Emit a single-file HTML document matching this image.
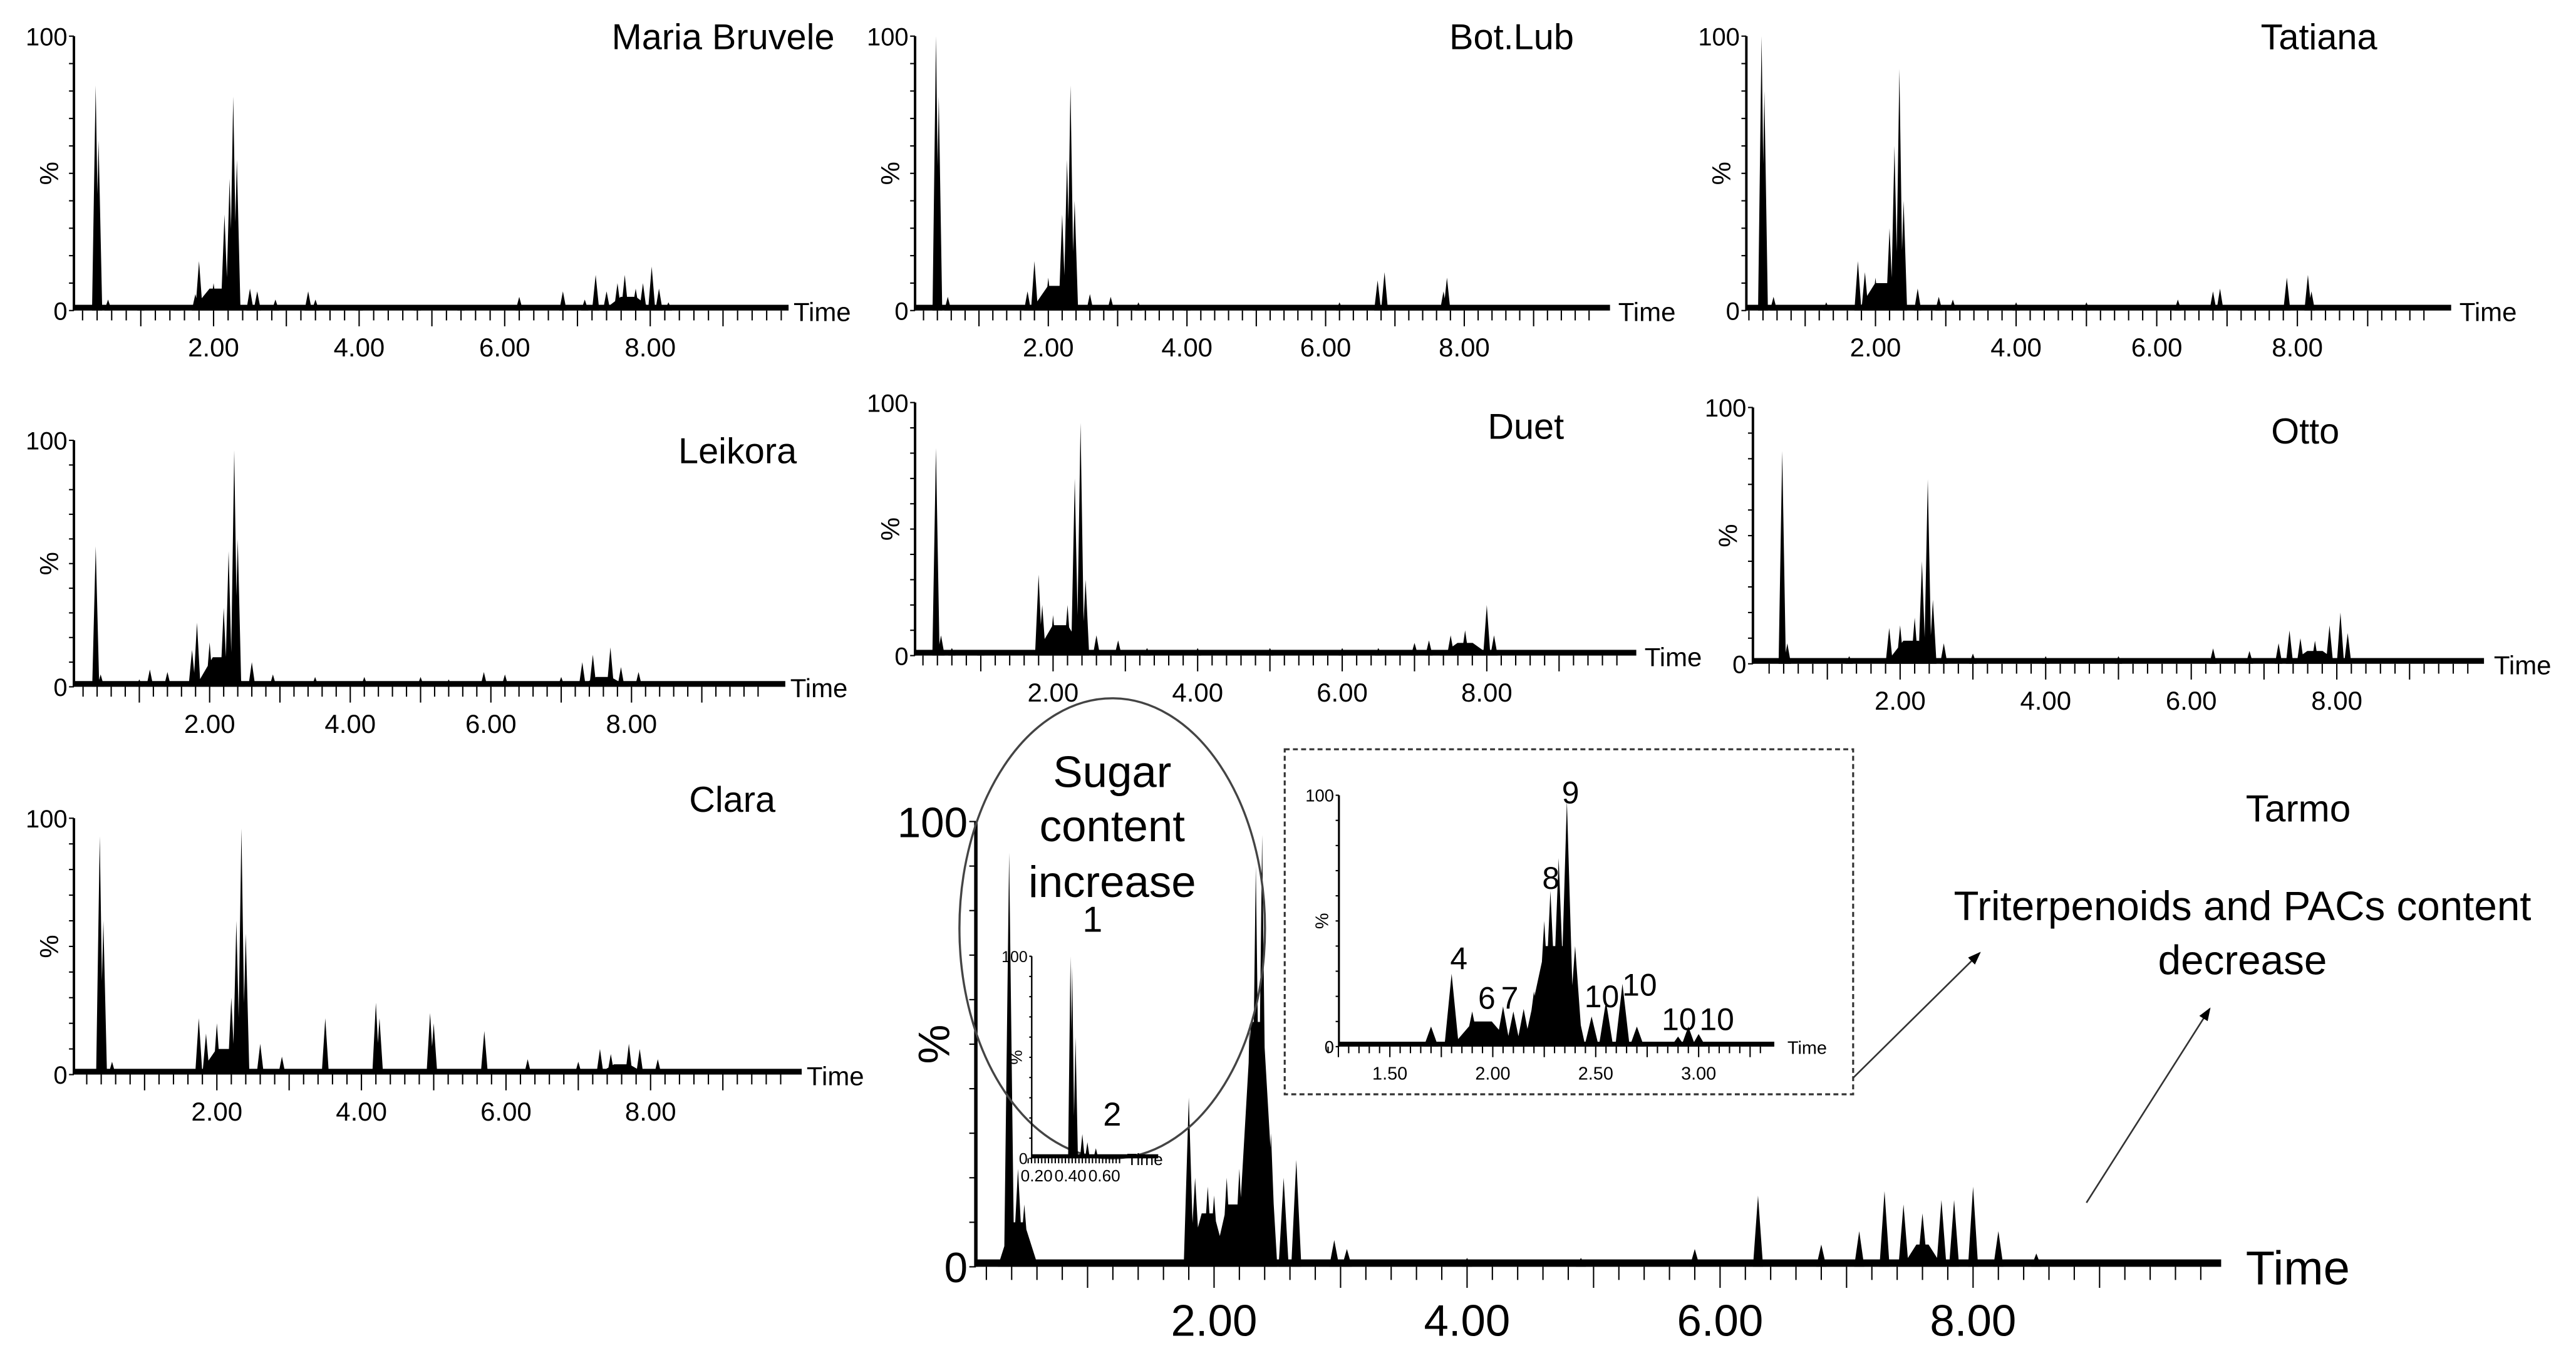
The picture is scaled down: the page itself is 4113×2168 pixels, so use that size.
<!DOCTYPE html>
<html><head><meta charset="utf-8"><style>
html,body{margin:0;padding:0;background:#fff;}
svg{display:block;font-family:"Liberation Sans",sans-serif;}
</style></head><body>
<svg id="fig" width="4113" height="2168" viewBox="0 0 1568 826.5" preserveAspectRatio="none" xmlns="http://www.w3.org/2000/svg">
<rect width="1568" height="826.5" fill="#fff"/>
<g id="marks"></g>
<ellipse cx="677" cy="565" rx="93" ry="140" fill="none" stroke="#444" stroke-width="1.3"/>
<g font-size="27" text-anchor="middle" fill="#000">
<text x="677" y="479">Sugar</text><text x="677" y="512">content</text><text x="677" y="546">increase</text></g>
<rect x="782" y="456" width="346" height="210" fill="#fff" stroke="#333" stroke-width="1.2" stroke-dasharray="3,2"/>
<g font-size="25" text-anchor="middle" fill="#000">
<text x="1365" y="560">Triterpenoids and PACs content</text><text x="1365" y="593">decrease</text></g>
<defs><marker id="ah" markerWidth="8" markerHeight="8" refX="7" refY="4" orient="auto"><path d="M0,1 L8,4 L0,7 z" fill="#000"/></marker></defs>
<line x1="1128" y1="656" x2="1205" y2="580" stroke="#333" stroke-width="1" marker-end="url(#ah)"/>
<line x1="1270" y1="732" x2="1345" y2="614" stroke="#333" stroke-width="1" marker-end="url(#ah)"/>
<g id="marks2"></g>
</svg>
<script>
// ---- data (time min, relative intensity %) ----
const mariaT=[0.38,0.42,0.55,1.0,1.5,1.75,1.8,2.0,2.15,2.22,2.27,2.32,2.5,2.6,2.85,3.3,3.4,4.0,4.8,5.4,6.2,6.8,7.1,7.25,7.4,7.55,7.65,7.8,7.9,8.02,8.12,8.25];
const mariaH=[82,62,4,1,2,6,18,10,35,48,78,55,8,7,4,7,4,2,2,2,5,7,4,13,7,10,13,8,10,16,8,3];
const mariaHumpT=[2.05,7.7];
const mariaHumpH=[8,5];
const botT=[0.38,0.42,0.55,1.7,1.8,2.0,2.2,2.27,2.32,2.38,2.6,2.9,3.3,4.0,5.0,6.2,6.75,6.85,7.7,7.75];
const botH=[100,78,5,7,18,12,35,55,82,40,6,5,3,2,2,3,11,14,7,12];
const botHumpT=[2.1,7.4];
const botHumpH=[9,2];
const tatT=[0.38,0.42,0.55,1.3,1.75,1.85,2.0,2.2,2.27,2.34,2.4,2.6,2.9,3.1,4.0,5.0,6.3,6.8,6.9,7.85,8.15,8.2];
const tatH=[100,80,5,3,18,14,12,30,60,88,40,8,5,4,3,3,4,7,8,12,13,7];
const tatHumpT=[2.1,7.5];
const tatHumpH=[10,2];
const leiT=[0.38,0.45,1.0,1.15,1.4,1.75,1.82,2.0,2.2,2.27,2.35,2.4,2.6,2.9,3.5,4.2,5.0,5.4,5.9,6.2,7.0,7.3,7.45,7.7,7.85,8.1];
const leiH=[57,5,3,7,6,15,26,18,32,55,96,60,10,5,4,4,4,3,6,5,4,10,13,16,8,6];
const leiHumpT=[2.15,7.6];
const leiHumpH=[12,4];
const duetT=[0.38,0.45,0.6,1.0,1.8,1.85,2.0,2.2,2.3,2.38,2.45,2.6,2.9,3.3,4.0,5.0,6.0,6.5,7.0,7.2,7.5,7.7,8.0,8.1];
const duetH=[82,8,3,2,32,20,16,20,70,92,30,8,6,3,3,3,3,3,5,6,8,10,20,8];
const duetHumpT=[2.1,7.7];
const duetHumpH=[12,5];
const ottoT=[0.38,0.45,1.3,1.85,2.0,2.2,2.3,2.38,2.45,2.6,3.0,4.0,5.0,6.3,6.8,7.2,7.35,7.5,7.7,7.9,8.05,8.15];
const ottoH=[83,8,3,14,15,18,40,72,25,8,4,3,3,6,5,8,13,10,9,15,20,12];
const ottoHumpT=[2.15,7.7];
const ottoHumpH=[9,5];
const claraT=[0.38,0.43,0.55,1.75,1.85,2.0,2.2,2.27,2.34,2.4,2.6,2.9,3.5,4.2,4.25,4.95,5.0,5.7,6.3,7.0,7.3,7.45,7.7,7.85,8.1];
const claraH=[93,60,5,22,16,20,30,60,96,55,12,7,22,28,22,24,20,17,6,5,10,8,12,10,6];
const claraHumpT=[2.1,7.6];
const claraHumpH=[10,4];
const tarmoT=[0.38,0.45,0.5,1.8,1.85,1.95,2.0,2.1,2.2,2.28,2.33,2.38,2.45,2.55,2.65,2.95,3.05,4.0,4.9,5.8,6.3,6.8,7.1,7.3,7.45,7.6,7.75,7.85,8.0,8.2,8.5];
const tarmoH=[93,22,14,38,20,18,16,20,22,55,90,97,30,20,24,6,4,2,2,4,16,5,8,17,14,12,15,15,18,8,3];
const tarmoHumpT=[0.45,1.95,2.15,2.34,7.6];
const tarmoHumpH=[10,12,14,55,5];
const sugarT=[0.4,0.41,0.43,0.47,0.5,0.55];
const sugarH=[100,95,60,12,8,5];
const insetT=[1.8,1.7,1.9,1.95,2.05,2.1,2.15,2.2,2.25,2.28,2.32,2.36,2.4,2.48,2.55,2.63,2.7,2.9,2.95,3.0];
const insetH=[29,8,14,10,16,14,15,22,50,62,75,98,40,12,18,25,8,4,8,5];
const insetHumpT=[2.3,1.95];
const insetHumpH=[40,10];
const tickLabels=["2.00","4.00","6.00","8.00"];
const tickVals=[2,4,6,8];
const insetTickLabels=["1.50","2.00","2.50","3.00"];
const insetTickVals=[1.5,2.0,2.5,3.0];
const sugarTickLabels=["0.20","0.40","0.60"];
const sugarTickVals=[0.2,0.4,0.6];

const NS="http://www.w3.org/2000/svg";
const root=document.getElementById('marks');
const root2=document.getElementById('marks2');
function mk(parent,tag,attrs){const e=document.createElementNS(NS,tag);for(const k in attrs)e.setAttribute(k,attrs[k]);parent.appendChild(e);return e;}

function panel(p,parent){
  const g=mk(parent,'g',{});
  
  
  const xs=t=>p.x0+(t-p.t0)*p.ppm;
  const ys=v=>p.y0-(v/100)*(p.y0-p.ytop);
  let d='';
  const HT=p.HT||[],HH=p.HH||[];
  for(let i=0;i<HT.length;i++){
    const w=p.hw,t=HT[i];
    d+=`M${xs(t-w)},${p.y0} L${xs(t-w*0.3)},${ys(HH[i])} L${xs(t+w*0.3)},${ys(HH[i])} L${xs(t+w)},${p.y0} Z `;
  }
  for(let i=0;i<p.T.length;i++){
    const w=p.w,t=p.T[i];
    d+=`M${xs(t-w)},${p.y0} L${xs(t)},${ys(p.H[i])} L${xs(t+w)},${p.y0} Z `;
  }
  const pk=mk(g,'path',{d:d,fill:'#000'});
  
  
  mk(g,'rect',{x:p.ax,y:p.y0-p.lw-1,width:p.xend-p.ax,height:p.lw+1,fill:'#000'});
  const ya=mk(g,'line',{x1:p.ax,y1:p.ytop,x2:p.ax,y2:p.y0,stroke:'#000','stroke-width':p.lw*0.6});
  
  
  for(let v=0;v<=100;v+=10){mk(g,'line',{x1:p.ax-p.tk*0.5,y1:ys(v),x2:p.ax,y2:ys(v),stroke:'#000','stroke-width':0.8});}
  for(let t=p.tStart;t<=p.tEnd+1e-6;t+=p.minor){
    const major=Math.abs(t/p.major-Math.round(t/p.major))<1e-3;
    mk(g,'line',{x1:xs(t),y1:p.y0,x2:xs(t),y2:p.y0+(major?p.tk*1.6:p.tk),stroke:'#000','stroke-width':0.8});
  }
  for(let i=0;i<p.tv.length;i++){
    const tl=mk(g,'text',{x:xs(p.tv[i]),y:p.y0+p.lo,'font-size':p.fs,'text-anchor':'middle'});
    tl.textContent=p.tl[i];
    
    
  }
  const y100=mk(g,'text',{x:p.ax-p.tk*0.5-1,y:p.ytop+p.fs*0.35,'font-size':p.fs*0.95,'text-anchor':'end'});y100.textContent='100';
  
  
  const y0=mk(g,'text',{x:p.ax-p.tk*0.5-1,y:p.y0+p.fs*0.35,'font-size':p.fs*0.95,'text-anchor':'end'});y0.textContent='0';
  
  
  const pc=mk(g,'text',{x:0,y:0,'font-size':p.fs,'text-anchor':'middle',transform:`translate(${p.ax-p.fs*0.6},${(p.ytop+p.y0)/2}) rotate(-90)`});pc.textContent='%';
  
  
  const tm=mk(g,'text',{x:p.timeX,y:p.y0+p.fs*0.4,'font-size':p.tfs||p.fs});tm.textContent='Time';
  
  
  if(p.title){const ti=mk(g,'text',{x:p.titleX,y:p.titleY,'font-size':p.titleFs||22,'text-anchor':p.titleAnchor||'end'});ti.textContent=p.title;
    
    }
}
const base={t0:0,w:0.05,hw:0.35,tStart:0.2,tEnd:9.8,minor:0.2,major:1,tv:tickVals,tl:tickLabels,fs:16,lo:28,tk:6,lw:2.5};
panel(Object.assign({},base,{name:'panel-maria-bruvele',ax:45,x0:41.4,ppm:44.3,y0:189,ytop:22,xend:480,timeX:483,title:'Maria Bruvele',titleX:508,titleY:30,T:mariaT,H:mariaH,HT:mariaHumpT,HH:mariaHumpH}),root);
panel(Object.assign({},base,{name:'panel-bot-lub',ax:557,x0:553.7,ppm:42.2,y0:189,ytop:22,xend:980,timeX:985,title:'Bot.Lub',titleX:958,titleY:30,T:botT,H:botH,HT:botHumpT,HH:botHumpH}),root);
panel(Object.assign({},base,{name:'panel-tatiana',ax:1063,x0:1056,ppm:42.8,y0:189,ytop:22,xend:1492,timeX:1497,title:'Tatiana',titleX:1447,titleY:30,T:tatT,H:tatH,HT:tatHumpT,HH:tatHumpH}),root);
panel(Object.assign({},base,{name:'panel-leikora',ax:45,x0:42,ppm:42.8,y0:418,ytop:268,xend:478,timeX:481,title:'Leikora',titleX:485,titleY:282,T:leiT,H:leiH,HT:leiHumpT,HH:leiHumpH}),root);
panel(Object.assign({},base,{name:'panel-duet',ax:557,x0:553,ppm:44,y0:399,ytop:245,xend:996,timeX:1001,title:'Duet',titleX:952,titleY:267,T:duetT,H:duetH,HT:duetHumpT,HH:duetHumpH}),root);
panel(Object.assign({},base,{name:'panel-otto',ax:1067,x0:1068,ppm:44.3,y0:404,ytop:248,xend:1512,timeX:1518,title:'Otto',titleX:1424,titleY:270,T:ottoT,H:ottoH,HT:ottoHumpT,HH:ottoHumpH}),root);
panel(Object.assign({},base,{name:'panel-clara',ax:45,x0:44,ppm:44,y0:654,ytop:498,xend:488,timeX:491,title:'Clara',titleX:472,titleY:494,T:claraT,H:claraH,HT:claraHumpT,HH:claraHumpH}),root);
panel(Object.assign({},base,{name:'panel-tarmo',ax:594,x0:585,ppm:77,y0:771,ytop:500,xend:1352,timeX:1367,title:'Tarmo',titleX:1367,titleY:500,titleAnchor:'start',titleFs:23,fs:27,tfs:29,lo:42,tk:8,lw:3.5,w:0.04,hw:0.16,T:tarmoT,H:tarmoH,HT:tarmoHumpT,HH:tarmoHumpH}),root);
panel({name:'inset-sugar',ax:628,x0:631,t0:0.2,ppm:103,y0:705,ytop:582,xend:705,timeX:686,w:0.014,hw:0.05,tStart:0.15,tEnd:0.7,minor:0.02,major:0.1,tv:sugarTickVals,tl:sugarTickLabels,fs:10,lo:14,tk:3,lw:1.5,T:sugarT,H:sugarH},root2);
panel({name:'inset-mid-region',ax:815,x0:846,t0:1.5,ppm:125.3,y0:637,ytop:484,xend:1080,timeX:1088,w:0.035,hw:0.15,tStart:1.2,tEnd:3.3,minor:0.05,major:0.25,tv:insetTickVals,tl:insetTickLabels,fs:11,lo:20,tk:4,lw:2,T:insetT,H:insetH,HT:insetHumpT,HH:insetHumpH},root2);
const pl=[["1",665,567,22],["2",677,685,20],["4",888,590,19],["6",905,614,19],["7",919,614,19],["8",944,541,19],["9",956,489,19],["10",975,613,19],["10",998,606,19],["10",1022,627,19],["10",1045,627,19]];
for(const [s,x,y,f] of pl){const t=mk(root2,'text',{x:x,y:y,'font-size':f,'text-anchor':'middle'});t.textContent=s;
  
  }
</script>
</body></html>
